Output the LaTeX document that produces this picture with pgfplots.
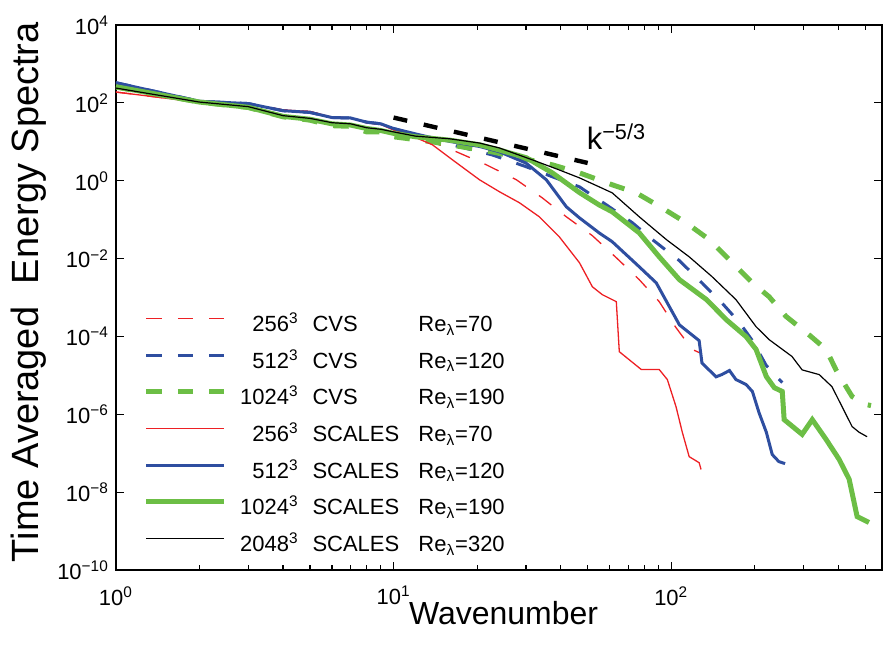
\documentclass[border=0pt]{standalone}
\usepackage{pgfplots}
\pgfplotsset{compat=1.18}
\usepackage{fontspec}
\setmainfont{Liberation Sans}
\definecolor{cred}{RGB}{237,32,36}
\definecolor{cblue}{RGB}{46,78,160}
\definecolor{cgreen}{RGB}{108,190,69}
\newcommand{\lgt}[3]{\makebox[31pt][r]{#1\textsuperscript{3}}\hspace{7pt}\makebox[53pt][l]{#2}Re\textsubscript{λ}=#3}
\begin{document}
\begin{tikzpicture}
\begin{axis}[
  scale only axis, width=383.5pt, height=273pt,
  xmode=log, ymode=log,
  xmin=1, xmax=574, ymin=1e-10, ymax=1e4,
  xtick={1,10,100},
  xticklabels={10\textsuperscript{0},10\textsuperscript{1},10\textsuperscript{2}},
  minor xtick={2,3,4,5,6,7,8,9,20,30,40,50,60,70,80,90,200,300,400,500},
  ytick={1e-10,1e-8,1e-6,1e-4,1e-2,1,1e2,1e4},
  yticklabels={10\textsuperscript{−10},10\textsuperscript{−8},10\textsuperscript{−6},10\textsuperscript{−4},10\textsuperscript{−2},10\textsuperscript{0},10\textsuperscript{2},10\textsuperscript{4}},
  minor y tick style={draw=none},
  tick align=inside, major tick length=4pt, minor tick length=2.5pt,
  axis line style={line width=1pt},
  every tick/.style={black, line width=0.6pt},
  tick label style={font=\fontsize{11}{13}\selectfont},
  xticklabel style={anchor=north, yshift=-4.5pt},
  xlabel={Wavenumber},
  ylabel={Time Averaged\hspace{0.6em}Energy Spectra},
  xlabel style={at={(axis description cs:0.506,-0.1)}, anchor=base, font=\fontsize{16}{19}\selectfont, inner sep=0pt},
  ylabel style={at={(axis description cs:-0.1014,0.51)}, anchor=base, font=\fontsize{19}{22}\selectfont, inner sep=0pt},
  legend style={draw=none, fill=none, at={(axis description cs:0.0364,0.4744)}, anchor=north west,
    inner sep=0pt, outer sep=0pt, row sep=4.35pt, font=\fontsize{11}{13}\selectfont,
    nodes={inner sep=0pt, text height=10pt, text depth=4pt},
    /tikz/every odd column/.append style={column sep=5pt}},
  legend cell align=left,
  legend image code/.code={\draw[#1] (0pt,3.6pt) -- (39pt,3.6pt);},
]
% 256 CVS
\addplot[cred, line width=0.65pt, dash pattern=on 7.8pt off 8pt] coordinates {
(1,190)(2,103)(3,95)(4,66)(5,60)(6,43)(7,41)(8,31)(9,28)(10,22)(12,14.5)(14,9.5)(16.9,5.5)(21.6,2.57)(27.7,1.06)(34.3,0.366)(41.9,0.119)(52,0.039)(63.4,0.0106)(76.7,0.0029)(90.5,7.9e-4)(104,1.7e-4)(119,4.7e-5)(126,3.9e-5)};
\addlegendentry{\lgt{256}{CVS}{70}}
% 512 CVS
\addplot[cblue, line width=1.5pt, dash pattern=on 7.8pt off 8pt] coordinates {
(1,330)(2,110)(3,96)(4,63)(5,57)(6,42)(7,41)(8,32)(9,29)(10,22)(13.8,11.2)(22.7,4.6)(30,2.3)(37.3,1.27)(46.7,0.70)(59.8,0.215)(72.4,0.084)(85.5,0.031)(107,0.0089)(129,0.0024)(152,7.4e-4)(176,2.3e-4)(196,7.9e-5)(220,1.8e-5)(251,6.6e-6)};
\addlegendentry{\lgt{512}{CVS}{120}}
% 1024 CVS
\addplot[cgreen, line width=2.5pt, dash pattern=on 7.8pt off 8pt] coordinates {
(1,255)(2,105)(3,76)(4,44)(5,36)(6,26)(7,25)(8,18)(9,18)(10,13.5)(13.8,10)(17.7,7.4)(22.7,5.5)(30,3.6)(37.3,2.57)(46.7,1.6)(61.3,0.79)(74.8,0.49)(92.8,0.20)(113,0.084)(137,0.031)(166,0.0079)(196,0.0024)(225,0.00106)(259,3.3e-4)(314,1.1e-4)(361,4.7e-5)(392,1.4e-5)(426,5.2e-6)(448,2.9e-6)(503,1.8e-6)(524,1.7e-6)};
\addlegendentry{\lgt{1024}{CVS}{190}}
% 256 SCALES
\addplot[cred, line width=0.65pt] coordinates {
(1,190)(2,103)(3,95)(4,66)(5,60)(6,43)(7,41)(8,31)(9,28)(10,20)(11.4,15.1)(13.8,8.4)(16.3,3.45)(20.4,1.06)(24.1,0.52)(28.4,0.273)(33.5,0.119)(39.5,0.0367)(46.7,0.0079)(52,0.0019)(56.5,0.00119)(63.4,0.00079)(65,4.1e-5)(78,1.43e-5)(90.5,1.43e-5)(96.8,7.9e-6)(104,1.6e-6)(109.6,3.5e-7)(116,8.3e-8)(126,5.8e-8)(128,3.9e-8)};
\addlegendentry{\lgt{256}{SCALES}{70}}
% 512 SCALES
\addplot[cblue, line width=1.5pt] coordinates {
(1,330)(2,110)(3,96)(4,63)(5,57)(6,42)(7,41)(8,32)(9,29)(10,22)(12,16)(13.1,13.8)(16,10.2)(20.4,7.6)(24,5.6)(30,2.85)(35.5,1.06)(41.9,0.215)(46.7,0.112)(55,0.046)(61.3,0.0273)(76.7,0.0062)(88.3,0.0024)(107,2.0e-4)(126,7.9e-5)(129,2.1e-5)(145,9.3e-6)(152,1.06e-5)(162,1.35e-5)(171,7.9e-6)(186,5.9e-6)(196,3.9e-6)(207,1.12e-6)(220,3.5e-7)(231,9.4e-8)(244,6.2e-8)(257,5.5e-8)};
\addlegendentry{\lgt{512}{SCALES}{120}}
% 1024 SCALES
\addplot[cgreen, line width=2.5pt] coordinates {
(1,260)(2,105)(3,77)(4,45)(5,38)(6,29)(7,27)(8,22)(9,19.5)(10,16.5)(12,13.5)(16,11)(20.4,8.4)(24,6.2)(30.1,3.9)(37.3,1.6)(46.7,0.5)(55,0.24)(61.3,0.16)(76.7,0.046)(90.5,0.0112)(107,0.0029)(134,8.9e-4)(158,2.7e-4)(186,1.0e-4)(202,4.7e-5)(220,9.4e-6)(235,4.9e-6)(251,3.9e-6)(255,7.4e-7)(296,3.1e-7)(322,7.4e-7)(361,2.3e-7)(402,7.1e-8)(437,2.2e-8)(467,2.4e-9)(515,1.7e-9)};
\addlegendentry{\lgt{1024}{SCALES}{190}}
% 2048 SCALES
\addplot[black, line width=0.6pt] coordinates {
(1,240)(2,105)(3,80)(4,47)(5,40)(6,31)(7,29)(8,23)(9,21)(10,18)(12,14)(15.9,12)(20.4,9.3)(24,7.0)(31.6,3.45)(39.5,1.9)(46.7,1.19)(55,0.70)(61.3,0.49)(76.7,0.119)(96,0.031)(116,0.0112)(140,0.0035)(171,8.9e-4)(202,1.8e-4)(225,8.4e-5)(272,3.1e-5)(296,1.4e-5)(341,1.06e-5)(379,5.2e-6)(412,1.6e-6)(448,4.9e-7)(475,3.5e-7)(507,2.7e-7)};
\addlegendentry{\lgt{2048}{SCALES}{320}}
% k^-5/3 reference
\addplot[black, line width=2.2pt, dash pattern=on 7pt off 8.5pt, forget plot] coordinates {(10,42)(50,2.87)};
\node[anchor=base west, font=\fontsize{15.5}{18}\selectfont, inner sep=0pt] at (axis cs:49.5,6.24) {k\textsuperscript{−5/3}};
\end{axis}
\path (current axis.south west) ++(-58pt,-41.5pt);
\path (current axis.north east) ++(0pt,12.5pt);
\end{tikzpicture}
\end{document}
